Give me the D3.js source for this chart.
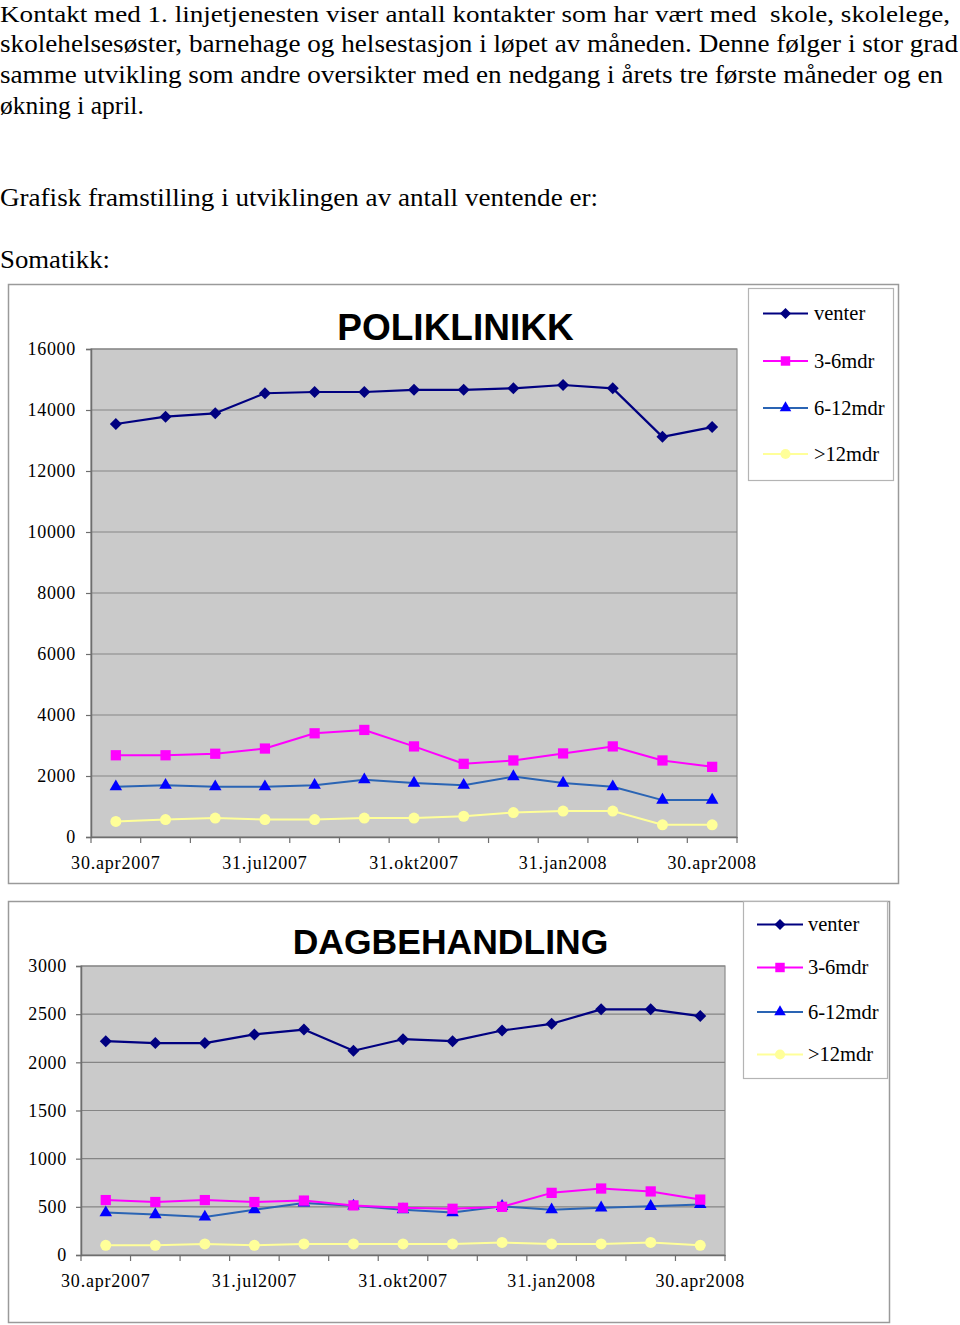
<!DOCTYPE html>
<html>
<head>
<meta charset="utf-8">
<script src="https://cdn.jsdelivr.net/npm/d3@7"></script>
<style>
  html, body { margin: 0; padding: 0; background: #fff; }
  svg { display: block; }
  text { white-space: pre; }
</style>
</head>
<body>
<svg id="page" width="960" height="1325"></svg>
<script>
// ---------- DATA ----------
const categories = ["30.apr2007","31.mai2007","30.jun2007","31.jul2007","31.aug2007","30.sep2007",
  "31.okt2007","30.nov2007","31.des2007","31.jan2008","29.feb2008","31.mar2008","30.apr2008"];
const seriesNames = ["venter", "3-6mdr", "6-12mdr", ">12mdr"];

const poliVenter = [13540,13780,13890,14550,14590,14590,14660,14660,14710,14820,14710,13120,13440];
const poli36     = [2680,2680,2730,2900,3400,3510,2970,2400,2510,2740,2970,2510,2300];
const poli612    = [1650,1700,1650,1650,1700,1880,1770,1700,1980,1770,1650,1210,1210];
const poli12     = [510,570,620,570,570,620,620,680,800,850,850,400,400];
const poliTicks  = [0,2000,4000,6000,8000,10000,12000,14000,16000];

const dagVenter = [2220,2200,2200,2290,2340,2120,2240,2220,2330,2400,2550,2550,2480];
const dag36     = [570,550,570,550,565,515,490,480,500,645,690,660,575];
const dag612    = [440,420,395,470,540,510,470,440,505,470,490,505,525];
const dag12     = [100,100,115,100,115,115,115,115,130,115,115,130,100];
const dagTicks  = [0,500,1000,1500,2000,2500,3000];

const bodyLines = [
  "Kontakt med 1. linjetjenesten viser antall kontakter som har vært med  skole, skolelege,",
  "skolehelsesøster, barnehage og helsestasjon i løpet av måneden. Denne følger i stor grad",
  "samme utvikling som andre oversikter med en nedgang i årets tre første måneder og en",
  "økning i april."
];
const heading1 = "Grafisk framstilling i utviklingen av antall ventende er:";
const heading2 = "Somatikk:";

// ---------- STYLE ----------
const serif = "'Liberation Serif', 'Times New Roman', serif";
const sans = "'Liberation Sans', Arial, sans-serif";
const squareDiamond = {
  draw(ctx, size) {
    const r = Math.sqrt(size / 2);
    ctx.moveTo(0, -r); ctx.lineTo(r, 0); ctx.lineTo(0, r); ctx.lineTo(-r, 0); ctx.closePath();
  }
};
const styles = [
  { line: "#000080", fill: "#000080", shape: squareDiamond, size: 72, lw: 2.2 },
  { line: "#ff00ff", fill: "#ff00ff", shape: d3.symbolSquare, size: 105, lw: 2 },
  { line: "#2a64b4", fill: "#0000ff", shape: d3.symbolTriangle, size: 68, lw: 2 },
  { line: "#ffff99", fill: "#ffff99", shape: d3.symbolCircle, size: 95, lw: 2 }
];

const svg = d3.select("#page");

// ---------- BODY TEXT ----------
const lineWidths = [950, 958, 943, null];
const lineY = [21.6, 51.5, 82.5, 113.5];
const lineSize = [24, 25.5, 25.5, 25.5];
bodyLines.forEach((t, i) => {
  const el = svg.append("text")
    .attr("x", 0).attr("y", lineY[i])
    .attr("font-family", serif).attr("font-size", lineSize[i]).attr("fill", "#000")
    .text(t);
  if (lineWidths[i]) el.attr("textLength", lineWidths[i]).attr("lengthAdjust", "spacingAndGlyphs");
});
svg.append("text").attr("x", 0).attr("y", 206)
  .attr("font-family", serif).attr("font-size", 25.5).attr("textLength", 598)
  .attr("lengthAdjust", "spacingAndGlyphs").text(heading1);
svg.append("text").attr("x", 0).attr("y", 268)
  .attr("font-family", serif).attr("font-size", 25.5).attr("textLength", 110)
  .attr("lengthAdjust", "spacingAndGlyphs").text(heading2);

// ---------- CHART ----------
function drawChart(cfg) {
  const g = svg.append("g");
  g.append("rect").attr("x", cfg.box[0] + 0.5).attr("y", cfg.box[1] + 0.5)
    .attr("width", cfg.box[2] - cfg.box[0]).attr("height", cfg.box[3] - cfg.box[1])
    .attr("fill", "#fff").attr("stroke", "#9a9a9a").attr("stroke-width", 1.5);

  const x = d3.scaleBand().domain(categories).range([cfg.plot[0], cfg.plot[2]]).padding(0);
  const y = d3.scaleLinear().domain([0, cfg.max]).range([cfg.plot[3], cfg.plot[1]]);
  const cx = c => x(c) + x.bandwidth() / 2;

  g.append("rect").attr("x", cfg.plot[0]).attr("y", cfg.plot[1])
    .attr("width", cfg.plot[2] - cfg.plot[0]).attr("height", cfg.plot[3] - cfg.plot[1])
    .attr("fill", "#cacaca").attr("stroke", "#8c8c8c").attr("stroke-width", 1.2);

  g.append("g").selectAll("line").data(cfg.ticks.slice(1)).join("line")
    .attr("x1", cfg.plot[0]).attr("x2", cfg.plot[2])
    .attr("y1", d => y(d)).attr("y2", d => y(d))
    .attr("stroke", "#858585").attr("stroke-width", 1.2);

  const ya = g.append("g").attr("transform", `translate(${cfg.plot[0]},0)`)
    .call(d3.axisLeft(y).tickValues(cfg.ticks).tickSize(5).tickPadding(cfg.ypad).tickFormat(d3.format("d")));
  ya.select(".domain").attr("stroke", "#6e6e6e").attr("stroke-width", 1.5);
  ya.selectAll(".tick line").attr("stroke", "#6e6e6e").attr("stroke-width", 1.2);
  ya.selectAll("text").attr("font-family", serif).attr("font-size", 18)
    .attr("letter-spacing", 0.7).attr("fill", "#000");

  const xa = g.append("g").attr("transform", `translate(0,${cfg.plot[3]})`)
    .call(d3.axisBottom(x).tickSize(0).tickFormat((d, i) => i % 3 === 0 ? d : ""));
  xa.select(".domain").attr("stroke", "#6e6e6e").attr("stroke-width", 1.5);
  xa.selectAll("text").attr("y", 32).attr("dy", 0)
    .attr("font-family", serif).attr("font-size", 18).attr("letter-spacing", 0.8).attr("fill", "#000");
  const bounds = categories.map(c => x(c)).concat([x(categories[categories.length - 1]) + x.bandwidth()]);
  g.append("g").selectAll("line").data(bounds).join("line")
    .attr("x1", d => d).attr("x2", d => d)
    .attr("y1", cfg.plot[3]).attr("y2", cfg.plot[3] + 6)
    .attr("stroke", "#6e6e6e").attr("stroke-width", 1.2);

  const line = d3.line().x((d, i) => cx(categories[i])).y(d => y(d));
  const order = [3, 2, 1, 0];
  order.forEach(si => {
    const st = styles[si];
    g.append("path").datum(cfg.series[si]).attr("d", line)
      .attr("fill", "none").attr("stroke", st.line).attr("stroke-width", st.lw)
      .attr("stroke-linejoin", "round");
  });
  order.forEach(si => {
    const st = styles[si];
    g.append("g").selectAll("path").data(cfg.series[si]).join("path")
      .attr("transform", (d, i) => `translate(${cx(categories[i])},${y(d)})`)
      .attr("d", d3.symbol().type(st.shape).size(st.size))
      .attr("fill", st.fill);
  });

  g.append("text").attr("x", cfg.titlePos[0]).attr("y", cfg.titlePos[1])
    .attr("text-anchor", "middle").attr("font-family", sans).attr("font-weight", "bold")
    .attr("font-size", cfg.titleSize).attr("fill", "#000").text(cfg.title);

  const L = cfg.legend;
  g.append("rect").attr("x", L.box[0] + 0.5).attr("y", L.box[1] + 0.5)
    .attr("width", L.box[2] - L.box[0]).attr("height", L.box[3] - L.box[1])
    .attr("fill", "#fff").attr("stroke", "#b4b4b4").attr("stroke-width", 1.2);
  seriesNames.forEach((name, si) => {
    const st = styles[si];
    const yy = L.ys[si];
    g.append("line").attr("x1", L.x1).attr("x2", L.x2).attr("y1", yy).attr("y2", yy)
      .attr("stroke", st.line).attr("stroke-width", 2);
    g.append("path").attr("transform", `translate(${(L.x1 + L.x2) / 2},${yy})`)
      .attr("d", d3.symbol().type(st.shape).size(st.size * 0.85)).attr("fill", st.fill);
    g.append("text").attr("x", L.tx).attr("y", yy).attr("dy", "0.33em")
      .attr("font-family", serif).attr("font-size", 20.5).attr("fill", "#000").text(name);
  });
}

drawChart({
  box: [8, 284, 898, 883],
  plot: [91, 349, 737, 837],
  max: 16000, ticks: poliTicks, ypad: 10,
  series: [poliVenter, poli36, poli612, poli12],
  title: "POLIKLINIKK", titlePos: [455.5, 340], titleSize: 37,
  legend: { box: [748, 288, 893, 480], ys: [313.5, 361, 408, 454], x1: 763, x2: 808, tx: 814 }
});

drawChart({
  box: [8, 901, 889, 1322],
  plot: [81, 966, 725, 1255],
  max: 3000, ticks: dagTicks, ypad: 9,
  series: [dagVenter, dag36, dag612, dag12],
  title: "DAGBEHANDLING", titlePos: [450.5, 954], titleSize: 35.5,
  legend: { box: [743, 901, 887, 1078], ys: [924.5, 967.5, 1012, 1054.5], x1: 757, x2: 803, tx: 808 }
});
</script>
</body>
</html>
